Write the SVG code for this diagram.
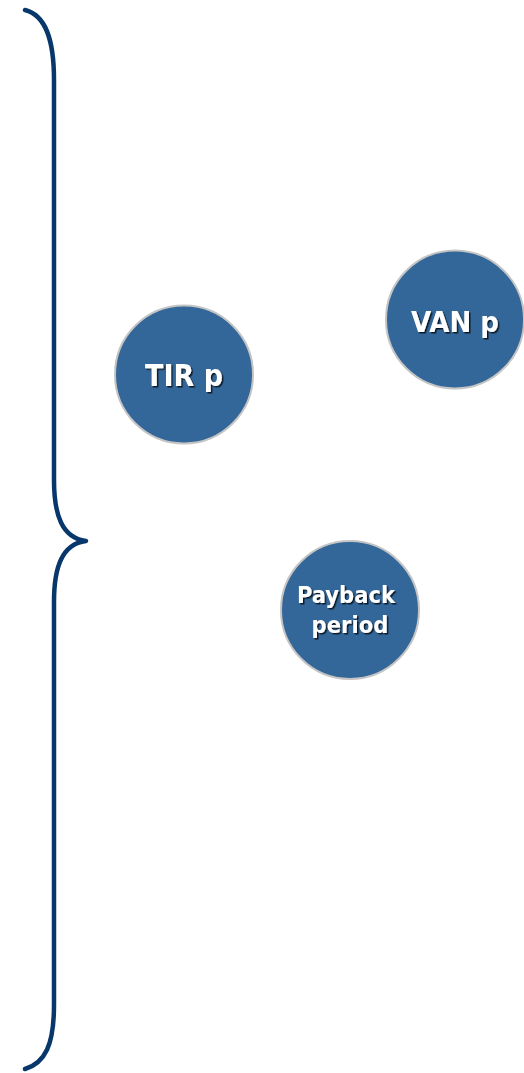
<svg xmlns="http://www.w3.org/2000/svg" width="524" height="1073" viewBox="0 0 524 1073">
  <style>
    .brace { fill: none; stroke: #08386b; stroke-width: 4.5; stroke-linecap: round; stroke-linejoin: round; }
    .bubble { fill: #336699; stroke: #c4c4c4; stroke-width: 2; }
    .label { font-family: "DejaVu Sans Condensed", "DejaVu Sans", sans-serif; font-weight: bold; fill: #ffffff; text-anchor: middle; filter: url(#shadow); }
  </style>
  <defs>
    <filter id="shadow" x="-20%" y="-20%" width="140%" height="160%">
      <feDropShadow dx="1.5" dy="1.5" stdDeviation="0.7" flood-color="#000000" flood-opacity="0.75"/>
    </filter>
  </defs>
  <rect width="524" height="1073" fill="#ffffff"/>

  <!-- curly brace on the left -->
  <g id="connectors">
    <path class="brace" d="M25,10 C45,15 54,38 54,80 L54,480 C54,515 62,538 86,541 C62,544 54,567 54,602 L54,1005 C54,1045 45,1063 25,1069"/>
  </g>

  <g id="tir">
    <circle class="bubble" cx="184" cy="374.5" r="69"/>
    <text class="label" x="184" y="386" font-size="30">TIR p</text>
  </g>

  <g id="van">
    <circle class="bubble" cx="455" cy="319.5" r="69"/>
    <text class="label" x="455" y="332" font-size="29">VAN p</text>
  </g>

  <g id="payback">
    <circle class="bubble" cx="350" cy="610" r="69"/>
    <text class="label" x="346" y="603" font-size="23.5">Payback</text>
    <text class="label" x="350" y="633" font-size="23.5">period</text>
  </g>
</svg>
